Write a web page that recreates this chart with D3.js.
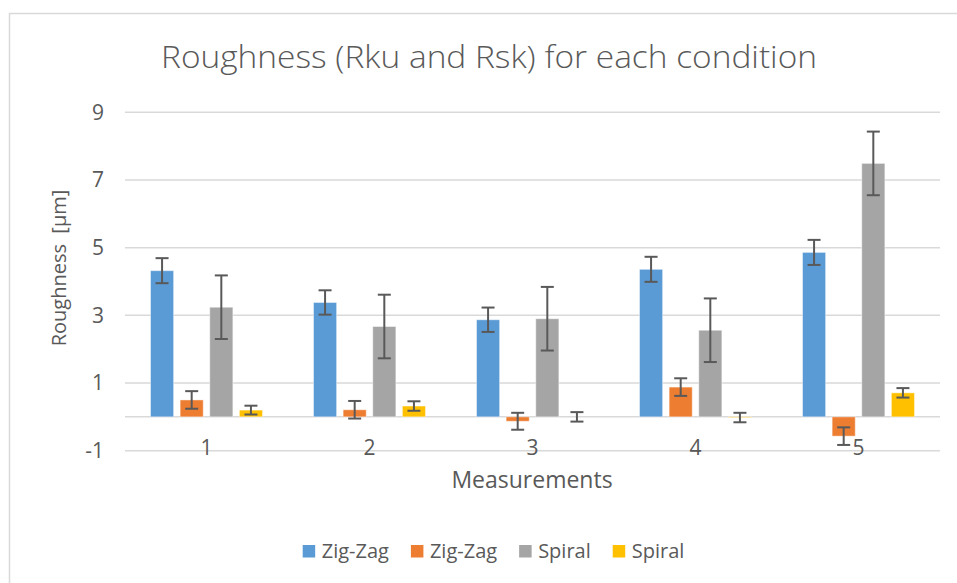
<!DOCTYPE html>
<html lang="en">
<head>
<meta charset="UTF-8">
<title>Roughness (Rku and Rsk) for each condition</title>
<script src="https://d3js.org/d3.v7.min.js"></script>
<style>
    body { margin: 0; background: #fff; }
    text { font-family: "Open Sans", "Noto Sans", sans-serif; fill: #595959; }
    .grid line { stroke: #d9d9d9; stroke-width: 1.5; }
    .err { stroke: #595959; stroke-width: 2; }
</style>
</head>
<body>
<svg width="957" height="583"></svg>
<script>
    // data
    const categories = ["1", "2", "3", "4", "5"];
    const seriesNames = ["Zig-Zag", "Zig-Zag", "Spiral", "Spiral"];
    const seriesColors = ["#5b9bd5", "#ed7d31", "#a5a5a5", "#ffc000"];
    const zigzagRku = [4.32, 3.38, 2.87, 4.36, 4.86];
    const zigzagRsk = [0.50, 0.21, -0.13, 0.88, -0.57];
    const spiralRku = [3.24, 2.67, 2.90, 2.56, 7.49];
    const spiralRsk = [0.20, 0.32, 0.00, -0.02, 0.71];
    const zigzagRkuErr = [0.37, 0.36, 0.36, 0.37, 0.37];
    const zigzagRskErr = [0.26, 0.26, 0.25, 0.26, 0.26];
    const spiralRkuErr = [0.94, 0.94, 0.94, 0.94, 0.94];
    const spiralRskErr = [0.13, 0.14, 0.14, 0.14, 0.14];
    const yTicks = [-1, 1, 3, 5, 7, 9];

    const values = [zigzagRku, zigzagRsk, spiralRku, spiralRsk];
    const errors = [zigzagRkuErr, zigzagRskErr, spiralRkuErr, spiralRskErr];

    const svg = d3.select("svg");

    // chart frame
    svg.append("rect")
        .attr("x", 9.5).attr("y", 13.5)
        .attr("width", 1000).attr("height", 1000)
        .attr("fill", "none").attr("stroke", "#d9d9d9").attr("stroke-width", 1.5);

    const left = 125, right = 940;
    const y = d3.scaleLinear().domain([-1, 9]).range([450.7, 112.3]);
    const x0 = d3.scaleBand().domain(categories).range([left, right])
        .paddingInner(0.313).paddingOuter(0.1565);
    const x1 = d3.scaleBand().domain(d3.range(4)).range([0, x0.bandwidth()])
        .paddingInner(0.22);

    // gridlines
    svg.append("g").attr("class", "grid")
        .selectAll("line")
        .data(yTicks.concat([0]))
        .join("line")
        .attr("x1", left).attr("x2", right)
        .attr("y1", d => y(d)).attr("y2", d => y(d));

    // y tick labels
    const yAxis = svg.append("g")
        .attr("transform", `translate(${left},0)`)
        .call(d3.axisLeft(y).tickValues(yTicks).tickSize(0).tickPadding(21)
            .tickFormat(d => d < 0 ? "-" + Math.abs(d) : d));
    yAxis.select(".domain").remove();
    yAxis.selectAll("text").style("font-size", "21px").style("font-family", null).attr("fill", "#595959");

    // bars
    const rows = [];
    values.forEach((vals, s) => vals.forEach((v, i) => rows.push({ s, cat: categories[i], v, e: errors[s][i] })));

    svg.append("g").selectAll("rect")
        .data(rows)
        .join("rect")
        .attr("x", d => x0(d.cat) + x1(d.s))
        .attr("width", x1.bandwidth())
        .attr("y", d => y(Math.max(0, d.v)))
        .attr("height", d => Math.abs(y(d.v) - y(0)))
        .attr("fill", d => seriesColors[d.s])
        .attr("stroke", "rgba(255,255,255,0.45)")
        .attr("stroke-width", 1);

    // error bars
    const eg = svg.append("g").attr("class", "err");
    const cx = d => x0(d.cat) + x1(d.s) + x1.bandwidth() / 2;
    eg.selectAll(".stem").data(rows).join("line")
        .attr("x1", cx).attr("x2", cx)
        .attr("y1", d => y(d.v + d.e)).attr("y2", d => y(d.v - d.e));
    eg.selectAll(".capTop").data(rows).join("line")
        .attr("x1", d => cx(d) - 6.5).attr("x2", d => cx(d) + 6.5)
        .attr("y1", d => y(d.v + d.e)).attr("y2", d => y(d.v + d.e));
    eg.selectAll(".capBot").data(rows).join("line")
        .attr("x1", d => cx(d) - 6.5).attr("x2", d => cx(d) + 6.5)
        .attr("y1", d => y(d.v - d.e)).attr("y2", d => y(d.v - d.e));

    // category labels
    const xAxis = svg.append("g")
        .attr("transform", `translate(0,${y(0)})`)
        .call(d3.axisBottom(x0).tickSize(0).tickPadding(23.5));
    xAxis.select(".domain").remove();
    xAxis.selectAll("text").style("font-size", "21px").style("font-family", null).attr("fill", "#595959");

    // titles
    svg.append("text")
        .attr("x", 489).attr("y", 67.5)
        .attr("text-anchor", "middle")
        .attr("textLength", 656).attr("lengthAdjust", "spacingAndGlyphs")
        .style("font-size", "31px").style("font-weight", 300)
        .text("Roughness (Rku and Rsk) for each condition");

    svg.append("text")
        .attr("x", 532).attr("y", 488)
        .attr("text-anchor", "middle")
        .style("font-size", "23px")
        .text("Measurements");

    svg.append("text")
        .attr("transform", "translate(66,268) rotate(-90)")
        .attr("text-anchor", "middle")
        .style("font-size", "20px")
        .style("white-space", "pre")
        .text("Roughness  [µm]");

    // legend
    const legend = svg.append("g");
    const items = legend.selectAll("g").data(seriesNames).join("g");
    items.append("rect")
        .attr("width", 12.5).attr("height", 12.5).attr("y", 545)
        .attr("fill", (d, i) => seriesColors[i]);
    items.append("text")
        .attr("x", 19).attr("y", 558)
        .style("font-size", "20px")
        .text(d => d);
    let pos = 0;
    items.each(function () {
        const w = d3.select(this).select("text").node().getComputedTextLength();
        d3.select(this).attr("data-x", pos);
        pos += 19 + w + 22;
    });
    const total = pos - 22;
    const start = 493.5 - total / 2;
    items.attr("transform", function () { return `translate(${start + +this.getAttribute("data-x")},0)`; });
</script>
</body>
</html>
